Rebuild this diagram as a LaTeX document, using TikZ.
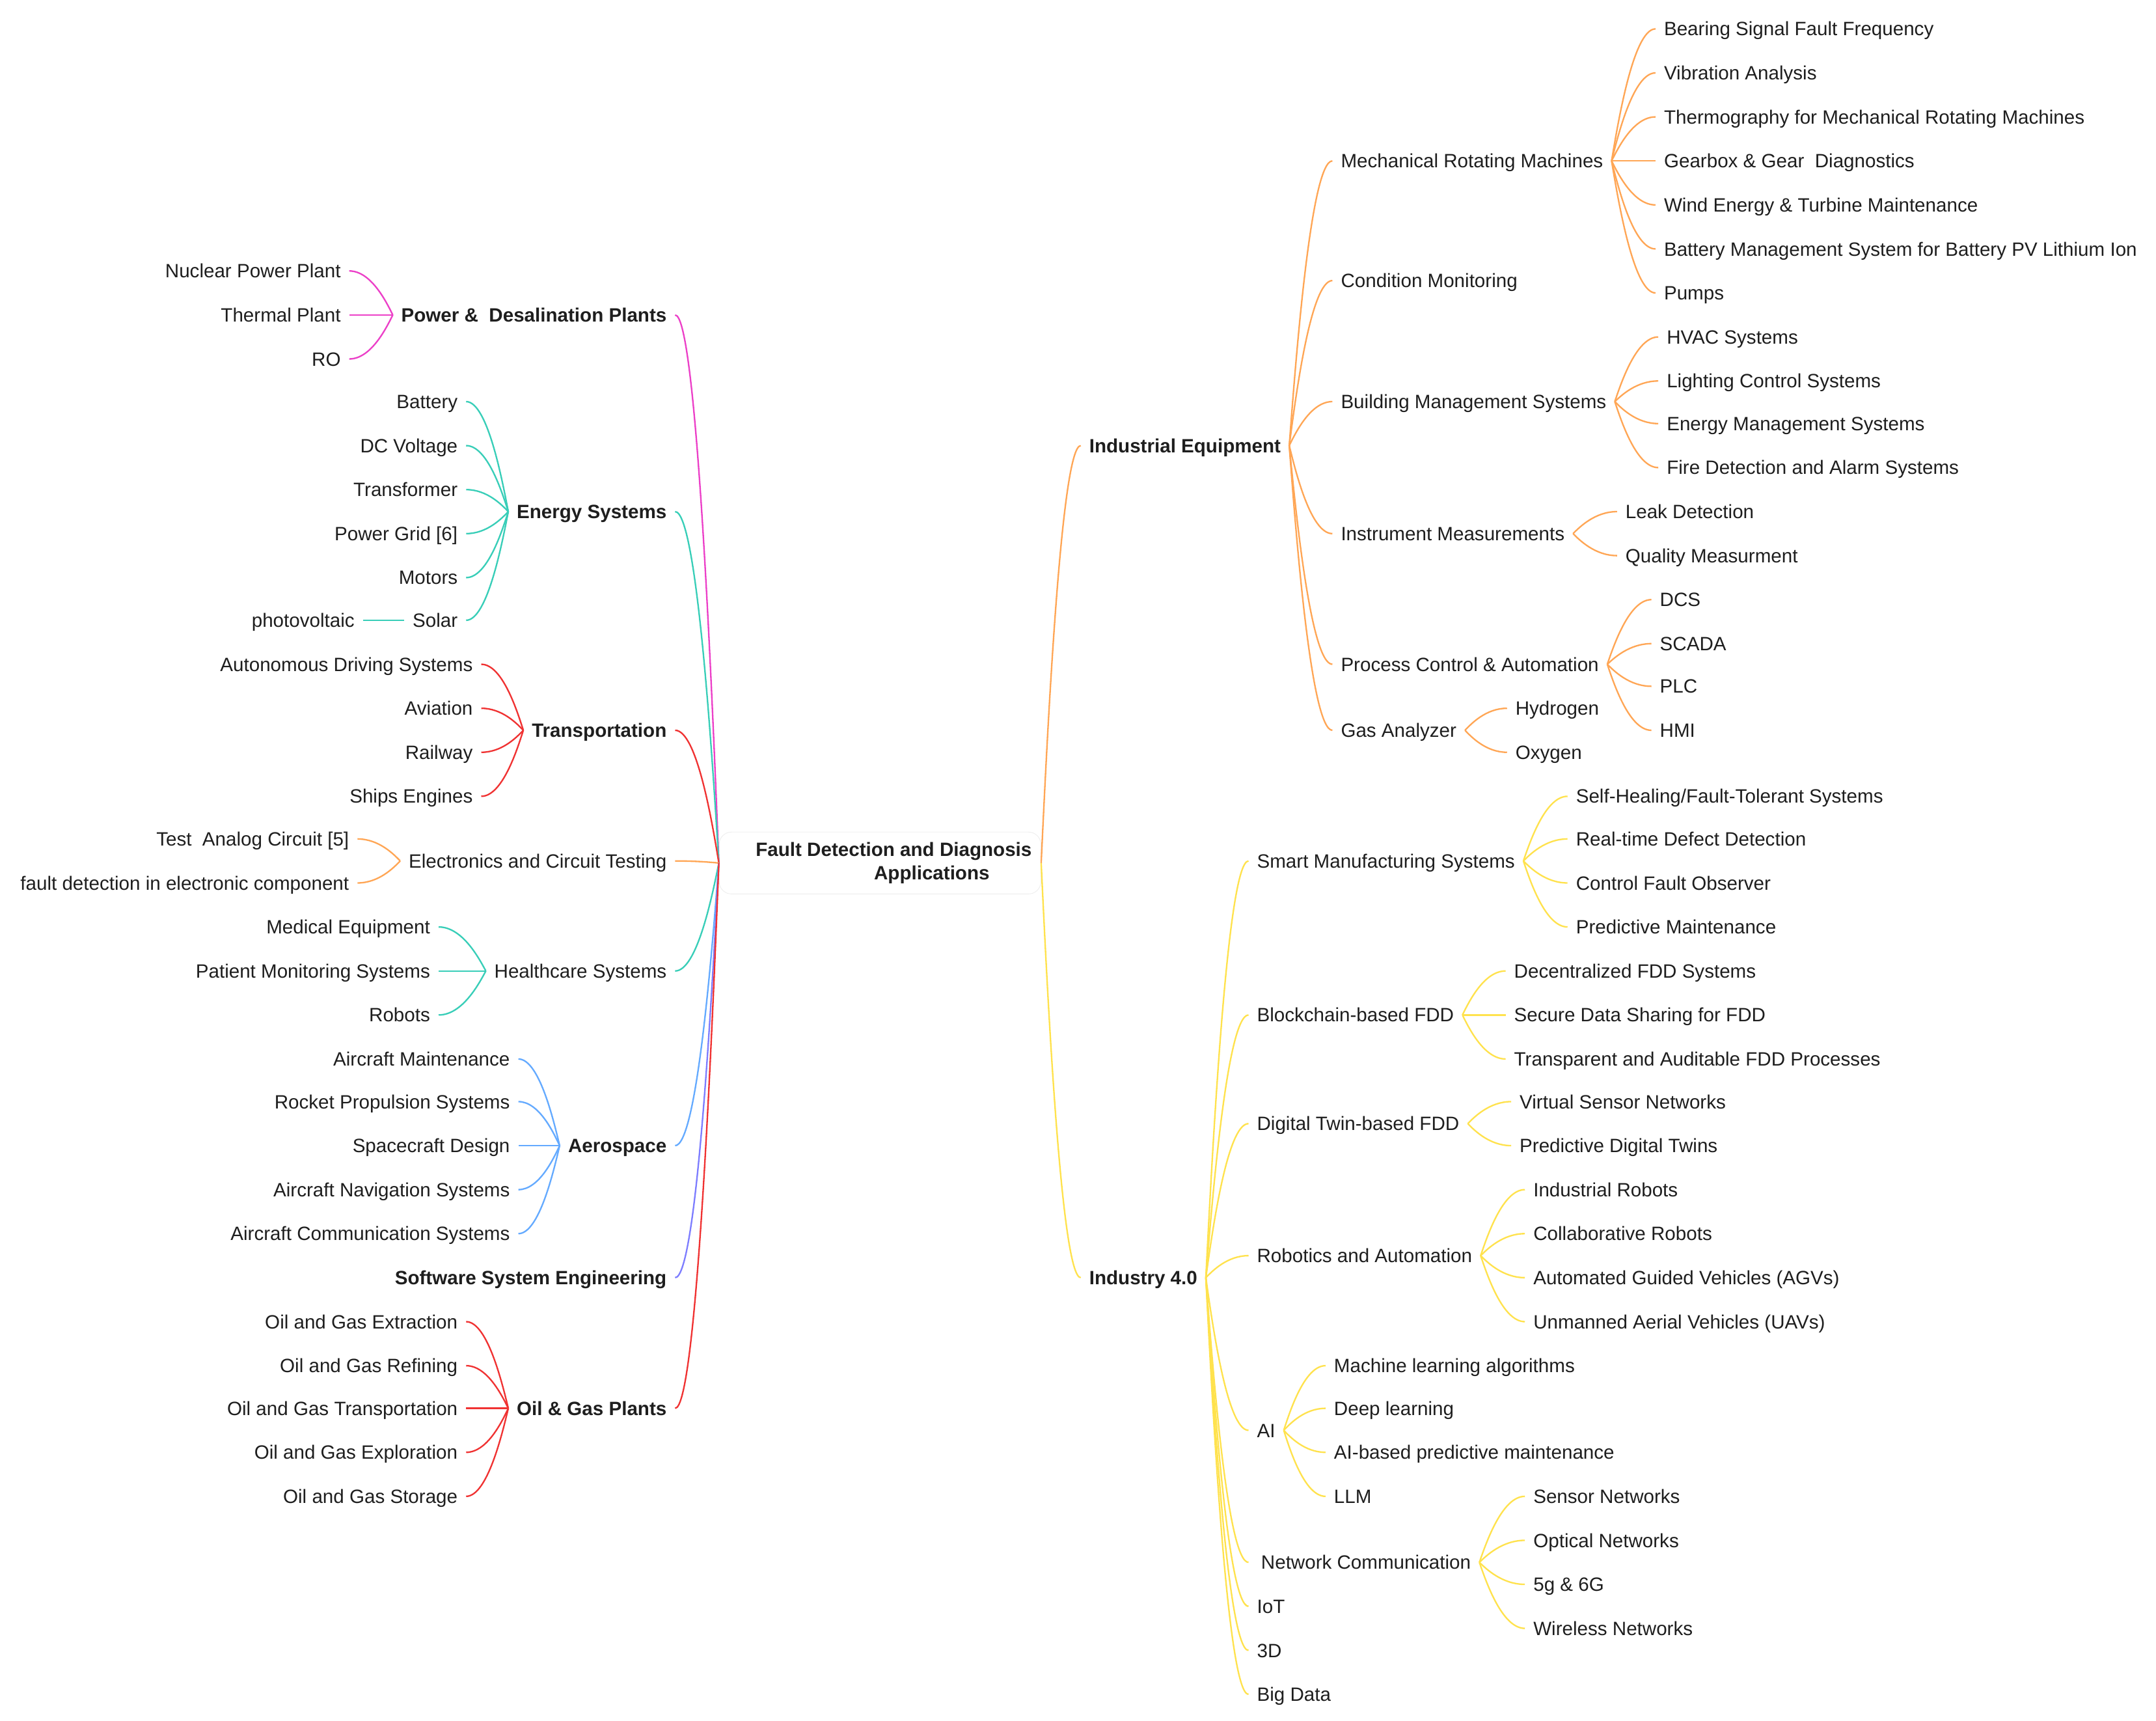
\documentclass[tikz,border=0pt]{standalone}
\usepackage{fontspec}
\setmainfont{Liberation Sans}
\usetikzlibrary{calc}
\definecolor{ink}{RGB}{30,30,30}
\definecolor{cmag}{RGB}{236,64,200}
\definecolor{cteal}{RGB}{56,206,184}
\definecolor{cred}{RGB}{240,50,50}
\definecolor{corng}{RGB}{255,166,85}
\definecolor{cblue}{RGB}{100,170,255}
\definecolor{cpurp}{RGB}{125,125,255}
\definecolor{cyell}{RGB}{255,226,77}
\newcommand\mlink[3]{\draw[#1,line width=1.1pt] let \p1=(#2), \p2=(#3) in (\p1) .. controls ({\x1+0.15*(\x2-\x1)},{\y1+0.3*(\y2-\y1)}) and ({0.5*\x1+0.5*\x2},\y2) .. (\p2);}
\begin{document}
\begin{tikzpicture}[x=1pt,y=-1pt,
  tnode/.style={font=\fontsize{14}{16}\selectfont, text=ink, inner xsep=6pt, inner ysep=0pt, text height=10pt, text depth=0pt},
  rnode/.style={tnode, anchor=west},
  lnode/.style={tnode, anchor=east},
  bf/.style={font=\fontsize{14}{16}\selectfont\bfseries}]
\fill[white] (0,0) rectangle (1568,1251);
\useasboundingbox (0,0) rectangle (1568,1251);
% root
\node[draw=black!7, rounded corners=9pt, minimum width=234pt, minimum height=45pt, inner sep=0pt, align=left, text=ink, font=\fontsize{14}{17.3}\selectfont\bfseries] (root) at (640,627.5) {\hspace*{20pt}Fault Detection and Diagnosis\\\hspace*{106pt}Applications};
% ---------- right: Industrial Equipment
\node[rnode,bf] (ie) at (786,324) {Industrial Equipment};
\node[rnode] (mrm) at (969,117) {Mechanical Rotating Machines};
\node[rnode] (cm) at (969,204) {Condition Monitoring};
\node[rnode] (bms) at (969,292) {Building Management Systems};
\node[rnode] (im) at (969,388) {Instrument Measurements};
\node[rnode] (pca) at (969,483) {Process Control \& Automation};
\node[rnode] (ga) at (969,531) {Gas Analyzer};
\node[rnode] (m1) at (1204,21) {Bearing Signal Fault Frequency};
\node[rnode] (m2) at (1204,53) {Vibration Analysis};
\node[rnode] (m3) at (1204,85) {Thermography for Mechanical Rotating Machines};
\node[rnode] (m4) at (1204,117) {Gearbox \& Gear\ \ Diagnostics};
\node[rnode] (m5) at (1204,149) {Wind Energy \& Turbine Maintenance};
\node[rnode] (m6) at (1204,181) {Battery Management System for Battery PV Lithium Ion};
\node[rnode] (m7) at (1204,213) {Pumps};
\node[rnode] (b1) at (1206,245) {HVAC Systems};
\node[rnode] (b2) at (1206,277) {Lighting Control Systems};
\node[rnode] (b3) at (1206,308) {Energy Management Systems};
\node[rnode] (b4) at (1206,340) {Fire Detection and Alarm Systems};
\node[rnode] (i1) at (1176,372) {Leak Detection};
\node[rnode] (i2) at (1176,404) {Quality Measurment};
\node[rnode] (p1) at (1201,436) {DCS};
\node[rnode] (p2) at (1201,468) {SCADA};
\node[rnode] (p3) at (1201,499) {PLC};
\node[rnode] (p4) at (1201,531) {HMI};
\node[rnode] (g1) at (1096,515) {Hydrogen};
\node[rnode] (g2) at (1096,547) {Oxygen};
% ---------- right: Industry 4.0
\node[rnode,bf] (i4) at (786,929) {Industry 4.0};
\node[rnode] (sms) at (908,626) {Smart Manufacturing Systems};
\node[rnode] (bc) at (908,738) {Blockchain-based FDD};
\node[rnode] (dt) at (908,817) {Digital Twin-based FDD};
\node[rnode] (ra) at (908,913) {Robotics and Automation};
\node[rnode] (ai) at (908,1040) {AI};
\node[rnode] (nc) at (908,1136) {\hspace*{3pt}Network Communication};
\node[rnode] (iot) at (908,1168) {IoT};
\node[rnode] (td) at (908,1200) {3D};
\node[rnode] (bd) at (908,1232) {Big Data};
\node[rnode] (s1) at (1140,579) {Self-Healing/Fault-Tolerant Systems};
\node[rnode] (s2) at (1140,610) {Real-time Defect Detection};
\node[rnode] (s3) at (1140,642) {Control Fault Observer};
\node[rnode] (s4) at (1140,674) {Predictive Maintenance};
\node[rnode] (c1) at (1095,706) {Decentralized FDD Systems};
\node[rnode] (c2) at (1095,738) {Secure Data Sharing for FDD};
\node[rnode] (c3) at (1095,770) {Transparent and Auditable FDD Processes};
\node[rnode] (d1) at (1099,801) {Virtual Sensor Networks};
\node[rnode] (d2) at (1099,833) {Predictive Digital Twins};
\node[rnode] (r1) at (1109,865) {Industrial Robots};
\node[rnode] (r2) at (1109,897) {Collaborative Robots};
\node[rnode] (r3) at (1109,929) {Automated Guided Vehicles (AGVs)};
\node[rnode] (r4) at (1109,961) {Unmanned Aerial Vehicles (UAVs)};
\node[rnode] (a1) at (964,993) {Machine learning algorithms};
\node[rnode] (a2) at (964,1024) {Deep learning};
\node[rnode] (a3) at (964,1056) {AI-based predictive maintenance};
\node[rnode] (a4) at (964,1088) {LLM};
\node[rnode] (n1) at (1109,1088) {Sensor Networks};
\node[rnode] (n2) at (1109,1120) {Optical Networks};
\node[rnode] (n3) at (1109,1152) {5g \& 6G};
\node[rnode] (n4) at (1109,1184) {Wireless Networks};
% ---------- left
\node[lnode,bf] (pw) at (491,229) {Power \&\ \ Desalination Plants};
\node[lnode] (pw1) at (254,197) {Nuclear Power Plant};
\node[lnode] (pw2) at (254,229) {Thermal Plant};
\node[lnode] (pw3) at (254,261) {RO};
\node[lnode,bf] (en) at (491,372) {Energy Systems};
\node[lnode] (en1) at (339,292) {Battery};
\node[lnode] (en2) at (339,324) {DC Voltage};
\node[lnode] (en3) at (339,356) {Transformer};
\node[lnode] (en4) at (339,388) {Power Grid [6]};
\node[lnode] (en5) at (339,420) {Motors};
\node[lnode] (en6) at (339,451) {Solar};
\node[lnode] (pv) at (264,451) {photovoltaic};
\node[lnode,bf] (tr) at (491,531) {Transportation};
\node[lnode] (tr1) at (350,483) {Autonomous Driving Systems};
\node[lnode] (tr2) at (350,515) {Aviation};
\node[lnode] (tr3) at (350,547) {Railway};
\node[lnode] (tr4) at (350,579) {Ships Engines};
\node[lnode] (el) at (491,626) {Electronics and Circuit Testing};
\node[lnode] (el1) at (260,610) {Test\ \ Analog Circuit [5]};
\node[lnode] (el2) at (260,642) {fault detection in electronic component};
\node[lnode] (hc) at (491,706) {Healthcare Systems};
\node[lnode] (hc1) at (319,674) {Medical Equipment};
\node[lnode] (hc2) at (319,706) {Patient Monitoring Systems};
\node[lnode] (hc3) at (319,738) {Robots};
\node[lnode,bf] (ae) at (491,833) {Aerospace};
\node[lnode] (ae1) at (377,770) {Aircraft Maintenance};
\node[lnode] (ae2) at (377,801) {Rocket Propulsion Systems};
\node[lnode] (ae3) at (377,833) {Spacecraft Design};
\node[lnode] (ae4) at (377,865) {Aircraft Navigation Systems};
\node[lnode] (ae5) at (377,897) {Aircraft Communication Systems};
\node[lnode,bf] (sw) at (491,929) {Software System Engineering};
\node[lnode,bf] (og) at (491,1024) {Oil \& Gas Plants};
\node[lnode] (og1) at (339,961) {Oil and Gas Extraction};
\node[lnode] (og2) at (339,993) {Oil and Gas Refining};
\node[lnode] (og3) at (339,1024) {Oil and Gas Transportation};
\node[lnode] (og4) at (339,1056) {Oil and Gas Exploration};
\node[lnode] (og5) at (339,1088) {Oil and Gas Storage};
% ---------- connectors
\mlink{corng}{root.east}{ie.west}
\mlink{cyell}{root.east}{i4.west}
\foreach \c in {mrm,cm,bms,im,pca,ga} {\mlink{corng}{ie.east}{\c.west}}
\foreach \c in {m1,m2,m3,m4,m5,m6,m7} {\mlink{corng}{mrm.east}{\c.west}}
\foreach \c in {b1,b2,b3,b4} {\mlink{corng}{bms.east}{\c.west}}
\foreach \c in {i1,i2} {\mlink{corng}{im.east}{\c.west}}
\foreach \c in {p1,p2,p3,p4} {\mlink{corng}{pca.east}{\c.west}}
\foreach \c in {g1,g2} {\mlink{corng}{ga.east}{\c.west}}
\foreach \c in {sms,bc,dt,ra,ai,nc,iot,td,bd} {\mlink{cyell}{i4.east}{\c.west}}
\foreach \c in {s1,s2,s3,s4} {\mlink{cyell}{sms.east}{\c.west}}
\foreach \c in {c1,c2,c3} {\mlink{cyell}{bc.east}{\c.west}}
\foreach \c in {d1,d2} {\mlink{cyell}{dt.east}{\c.west}}
\foreach \c in {r1,r2,r3,r4} {\mlink{cyell}{ra.east}{\c.west}}
\foreach \c in {a1,a2,a3,a4} {\mlink{cyell}{ai.east}{\c.west}}
\foreach \c in {n1,n2,n3,n4} {\mlink{cyell}{nc.east}{\c.west}}
\mlink{cmag}{root.west}{pw.east}
\mlink{cteal}{root.west}{en.east}
\mlink{cred}{root.west}{tr.east}
\mlink{corng}{root.west}{el.east}
\mlink{cteal}{root.west}{hc.east}
\mlink{cblue}{root.west}{ae.east}
\mlink{cpurp}{root.west}{sw.east}
\mlink{cred}{root.west}{og.east}
\foreach \c in {pw1,pw2,pw3} {\mlink{cmag}{pw.west}{\c.east}}
\foreach \c in {en1,en2,en3,en4,en5,en6} {\mlink{cteal}{en.west}{\c.east}}
\mlink{cteal}{en6.west}{pv.east}
\foreach \c in {tr1,tr2,tr3,tr4} {\mlink{cred}{tr.west}{\c.east}}
\foreach \c in {el1,el2} {\mlink{corng}{el.west}{\c.east}}
\foreach \c in {hc1,hc2,hc3} {\mlink{cteal}{hc.west}{\c.east}}
\foreach \c in {ae1,ae2,ae3,ae4,ae5} {\mlink{cblue}{ae.west}{\c.east}}
\foreach \c in {og1,og2,og3,og4,og5} {\mlink{cred}{og.west}{\c.east}}
\end{tikzpicture}
\end{document}
